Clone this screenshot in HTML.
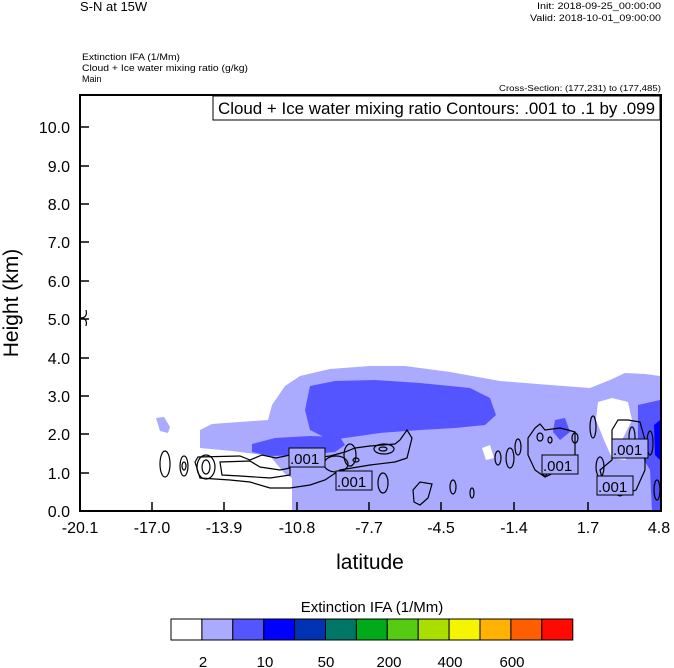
<!DOCTYPE html>
<html><head><meta charset="utf-8"><style>
body{margin:0;background:#fff;}
svg{display:block;font-family:"Liberation Sans",Arial,sans-serif;}
</style></head><body>
<svg width="674" height="668" viewBox="0 0 674 668" xmlns="http://www.w3.org/2000/svg">
<rect width="674" height="668" fill="#fff"/>
<text x="80" y="11" font-size="13">S-N at 15W</text>
<text x="661" y="9" font-size="9" text-anchor="end" textLength="124" lengthAdjust="spacingAndGlyphs">Init: 2018-09-25_00:00:00</text>
<text x="661" y="21" font-size="9" text-anchor="end" textLength="131" lengthAdjust="spacingAndGlyphs">Valid: 2018-10-01_09:00:00</text>
<text x="82" y="60" font-size="9" textLength="98" lengthAdjust="spacingAndGlyphs">Extinction IFA   (1/Mm)</text>
<text x="82" y="71" font-size="9" textLength="166" lengthAdjust="spacingAndGlyphs">Cloud + Ice water mixing ratio    (g/kg)</text>
<text x="82" y="82" font-size="9">Main</text>
<text x="661" y="91" font-size="8" text-anchor="end" textLength="162" lengthAdjust="spacingAndGlyphs">Cross-Section: (177,231) to (177,485)</text>

<!-- fills -->
<path d="M200,430 L212,424 L268,420 L272,405 L285,386 L300,376 L330,369 L370,366 L405,366 L450,372 L500,381 L550,385 L590,388 L610,380 L625,373 L645,374 L660,376 L660,511 L292,511 L292,478 L285,474 L270,456 L232,451 L200,448 Z" fill="#aaaaff"/>
<path d="M156,418 L164,417 L170,427 L168,433 L160,431 Z" fill="#aaaaff"/>
<path d="M598,402 L612,398 L628,402 L632,420 L622,440 L626,460 L612,458 L604,440 L596,420 Z" fill="#fff"/>
<path d="M482,448 L490,445 L494,458 L486,460 Z" fill="#fff"/>
<path d="M310,386 L335,381 L375,380 L420,383 L470,388 L490,398 L496,415 L485,425 L455,428 L420,430 L380,433 L345,438 L330,440 L310,430 L305,410 Z" fill="#5555ff"/>
<path d="M252,444 L275,438 L310,436 L340,437 L345,445 L335,452 L300,455 L270,456 L252,452 Z" fill="#5555ff"/>
<path d="M555,420 L565,418 L570,432 L560,440 L553,432 Z" fill="#5555ff"/>
<path d="M638,405 L660,400 L660,511 L652,511 L650,470 L644,460 L638,440 Z" fill="#5555ff"/>
<path d="M654,425 L660,420 L660,460 L655,455 Z" fill="#0000ff"/>

<!-- contours -->
<g fill="none" stroke="#000" stroke-width="1.2">
<ellipse cx="165" cy="464" rx="5" ry="13"/>
<ellipse cx="184" cy="466" rx="4" ry="10"/>
<ellipse cx="184" cy="466" rx="2" ry="4"/>
<ellipse cx="206" cy="467" rx="9" ry="12"/>
<ellipse cx="206" cy="467" rx="4" ry="7"/>
<path d="M195,462 L198,457 L240,456 L250,460 L262,455 L276,458 L290,455 L300,460 L330,456 L345,452 L355,448 L370,446 L395,444 L400,440 L407,430 L412,438 L407,458 L395,462 L370,465 L340,470 L325,480 L310,485 L290,488 L270,488 L250,482 L230,480 L200,478 Z"/>
<path d="M220,462 L250,461 L260,467 L280,470 L290,468 L290,475 L270,478 L240,476 L222,475 Z"/>
<ellipse cx="336" cy="464" rx="12" ry="8"/>
<ellipse cx="350" cy="455" rx="6" ry="11"/>
<ellipse cx="384" cy="449" rx="10" ry="5"/>
<ellipse cx="383" cy="449" rx="4" ry="2"/>
<ellipse cx="356" cy="460" rx="3" ry="2"/>
<ellipse cx="383" cy="483" rx="5" ry="10"/>
<path d="M413,490 L420,482 L432,484 L428,498 L420,505 L414,502 Z"/>
<ellipse cx="453" cy="487" rx="3" ry="7"/>
<ellipse cx="472" cy="493" rx="2" ry="5"/>
<ellipse cx="498" cy="458" rx="3" ry="7"/>
<ellipse cx="510" cy="458" rx="4" ry="10"/>
<ellipse cx="518" cy="447" rx="3" ry="8"/>
<path d="M528,438 L535,428 L540,424 L545,430 L560,428 L568,430 L575,432 L575,465 L560,470 L545,477 L535,470 L528,455 Z"/>
<ellipse cx="540" cy="437" rx="3" ry="4"/>
<ellipse cx="550" cy="440" rx="2" ry="3"/>
<ellipse cx="575" cy="438" rx="3" ry="5"/>
<ellipse cx="593" cy="427" rx="3" ry="11"/>
<ellipse cx="545" cy="466" rx="3" ry="10"/>
<ellipse cx="600" cy="467" rx="4" ry="10"/>
<path d="M612,430 L618,420 L628,420 L640,422 L645,440 L645,470 L636,490 L620,496 L605,490 L600,470 L612,460 Z"/>
<ellipse cx="632" cy="437" rx="3" ry="10"/>
<ellipse cx="650" cy="443" rx="3" ry="12"/>
<ellipse cx="657" cy="490" rx="3" ry="10"/>
<path d="M80,318 Q88,318 86,310 M80,318 Q88,318 86,326"/>
</g>
<g font-size="15">
<rect x="289" y="448" width="36" height="19" fill="#aaaaff" stroke="#000"/><text x="290" y="464">.001</text>
<rect x="336" y="471" width="36" height="19" fill="#aaaaff" stroke="#000"/><text x="337" y="487">.001</text>
<rect x="542" y="455" width="36" height="19" fill="#aaaaff" stroke="#000"/><text x="543" y="471">.001</text>
<rect x="612" y="439" width="36" height="19" fill="#aaaaff" stroke="#000"/><text x="613" y="455">.001</text>
<rect x="597" y="476" width="36" height="19" fill="#aaaaff" stroke="#000"/><text x="598" y="492">.001</text>
</g>

<!-- frame -->
<rect x="80" y="95" width="581" height="416" fill="none" stroke="#000" stroke-width="2"/>
<rect x="213" y="96" width="447" height="24" fill="#fff" stroke="#000"/>
<text x="218" y="114" font-size="17" textLength="437" lengthAdjust="spacingAndGlyphs">Cloud + Ice water mixing ratio Contours: .001 to .1 by .099</text>

<g stroke="#000" stroke-width="1.5">
<line x1="152" y1="511" x2="152" y2="502"/><line x1="224" y1="511" x2="224" y2="502"/>
<line x1="297" y1="511" x2="297" y2="502"/><line x1="369" y1="511" x2="369" y2="502"/>
<line x1="441" y1="511" x2="441" y2="502"/><line x1="514" y1="511" x2="514" y2="502"/>
<line x1="588" y1="511" x2="588" y2="502"/>
<line x1="80" y1="473" x2="89" y2="473"/><line x1="80" y1="434" x2="89" y2="434"/>
<line x1="80" y1="396" x2="89" y2="396"/><line x1="80" y1="358" x2="89" y2="358"/>
<line x1="80" y1="319" x2="89" y2="319"/><line x1="80" y1="281" x2="89" y2="281"/>
<line x1="80" y1="242" x2="89" y2="242"/><line x1="80" y1="204" x2="89" y2="204"/>
<line x1="80" y1="166" x2="89" y2="166"/><line x1="80" y1="127" x2="89" y2="127"/>
</g>
<g font-size="16" text-anchor="end">
<text x="70" y="517">0.0</text><text x="70" y="479">1.0</text><text x="70" y="440">2.0</text>
<text x="70" y="402">3.0</text><text x="70" y="364">4.0</text><text x="70" y="325">5.0</text>
<text x="70" y="287">6.0</text><text x="70" y="248">7.0</text><text x="70" y="210">8.0</text>
<text x="70" y="172">9.0</text><text x="70" y="133">10.0</text>
</g>
<g font-size="16" text-anchor="middle">
<text x="80" y="533">-20.1</text><text x="152" y="533">-17.0</text><text x="224" y="533">-13.9</text>
<text x="297" y="533">-10.8</text><text x="369" y="533">-7.7</text><text x="441" y="533">-4.5</text>
<text x="514" y="533">-1.4</text><text x="588" y="533">1.7</text><text x="659" y="533">4.8</text>
</g>
<text x="370" y="569" font-size="21" text-anchor="middle">latitude</text>
<text transform="translate(18,303) rotate(-90)" font-size="21" text-anchor="middle">Height (km)</text>

<text x="372" y="612" font-size="15" text-anchor="middle">Extinction IFA  (1/Mm)</text>
<g stroke="#000" stroke-width="1">
<rect x="171" y="619" width="30.9" height="21" fill="#fff"/>
<rect x="201.9" y="619" width="30.9" height="21" fill="#aaaaff"/>
<rect x="232.8" y="619" width="30.9" height="21" fill="#5555ff"/>
<rect x="263.7" y="619" width="30.9" height="21" fill="#0000ff"/>
<rect x="294.6" y="619" width="30.9" height="21" fill="#0033b3"/>
<rect x="325.5" y="619" width="30.9" height="21" fill="#007766"/>
<rect x="356.4" y="619" width="30.9" height="21" fill="#00aa18"/>
<rect x="387.3" y="619" width="30.9" height="21" fill="#55cc11"/>
<rect x="418.2" y="619" width="30.9" height="21" fill="#aadd00"/>
<rect x="449.1" y="619" width="30.9" height="21" fill="#f5f500"/>
<rect x="480" y="619" width="30.9" height="21" fill="#ffb300"/>
<rect x="510.9" y="619" width="30.9" height="21" fill="#ff5e00"/>
<rect x="541.8" y="619" width="31" height="21" fill="#ff0a00"/>
</g>
<g font-size="15" text-anchor="middle">
<text x="203" y="667">2</text><text x="265" y="667">10</text><text x="326" y="667">50</text>
<text x="389" y="667">200</text><text x="450" y="667">400</text><text x="512" y="667">600</text>
</g>
</svg>
</body></html>
